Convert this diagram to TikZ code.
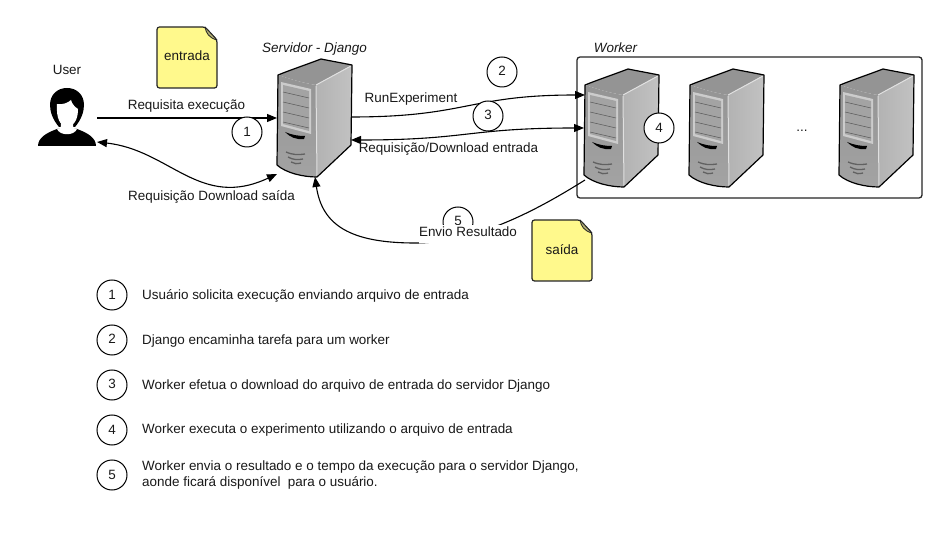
\documentclass[tikz,border=0pt]{standalone}
\usepackage{fontspec}
\setmainfont{Liberation Sans}
\usetikzlibrary{arrows.meta}
\tikzset{
  every node/.style={font=\fontsize{13.45}{16}\selectfont,text=black!90,inner sep=0pt},
  link/.style={line width=1.1pt,black},
  headA/.style={-{Triangle[length=10pt,width=8pt]}},
  headB/.style={{Triangle[length=10pt,width=8pt]}-{Triangle[length=10pt,width=8pt]}},
  numcirc/.style={circle,draw=black,line width=1pt,fill=white,minimum size=30pt},
  lab/.style={text height=13pt,text depth=3pt},
  leg/.style={lab,anchor=west},
  notebox/.style={draw=black!85,line width=1.2pt,fill=yellow!45,rounded corners=2.5pt},
  serverbox/.pic={
    \path[fill=black!42,line join=round]
      (0,0) .. controls (15,-6) and (30,-11) .. (43,-16) .. controls (53,-14) and (64,-12) .. (74,-10)
      -- (38,10) .. controls (25,8) and (12,4) .. (0,0) -- cycle;
    \path[left color=black!30,right color=black!24,line join=round]
      (38,10) -- (74,-10) -- (73,70) -- (39,102) -- cycle;
    \path[top color=black!42,bottom color=black!36,line join=round]
      (0,0) .. controls (12,4) and (25,8) .. (38,10) -- (39,102)
      .. controls (25,102) and (8,98) .. (-1,90) -- cycle;
    \draw[black!12,line width=1pt] (38,11) -- (39,101);
    \draw[black!12,line width=1pt] (38,10) -- (73,-9);
    \draw[black,line width=1.2pt,line join=round]
      (0,0) .. controls (15,-6) and (30,-11) .. (43,-16) .. controls (53,-14) and (64,-12) .. (74,-10)
      -- (73,70) -- (39,102) .. controls (25,102) and (8,98) .. (-1,90) -- cycle;
    \path[fill=black!20] (3,7) -- (33,14) -- (33,59) -- (3,51) -- cycle;
    \path[fill=black!36] (5,10) -- (31,16) -- (31,56) -- (5,49) -- cycle;
    \foreach \yy in {0,10,20,30}
      {\draw[black!65,line width=.5pt] (5,17+\yy) -- (31,23+\yy);}
    \path[fill=black] (7,57) .. controls (14,60) and (20,61) .. (27,61)
      -- (26,64) .. controls (18,65) and (12,62) .. (7,57) -- cycle;
    \draw[black!62,line width=1.3pt] (8,77) .. controls (15,80) and (20,80) .. (27,79);
    \draw[black!62,line width=1.3pt] (10,82) .. controls (15,85) and (20,85) .. (25,84);
    \draw[black!62,line width=1.3pt] (13,87) .. controls (16,89) and (19,89) .. (23,88);
    \coordinate (-wt) at (0,10);
    \coordinate (-wm) at (-1,43);
    \coordinate (-wl) at (0,95);
    \coordinate (-et) at (73,42);
    \coordinate (-eb) at (73,65);
    \coordinate (-bl) at (-1,99);
    \coordinate (-bc) at (37,102);
  }
}
\begin{document}
\begin{tikzpicture}[x=1pt,y=-1pt]
\useasboundingbox[fill=white] (0,0) rectangle (943,545);
% worker box
\node[draw=black!85,line width=1.3pt,rounded corners=3pt,minimum width=345pt,minimum height=141pt] (workerbox) at (749.5,127.5) {};
% servers
\pic (django) at (278,75) {serverbox};
\pic (workerA) at (585,85) {serverbox};
\pic (workerB) at (690,85) {serverbox};
\pic (workerC) at (840,85) {serverbox};
% user icon
\fill[black] (38,146) .. controls (38,138) and (46,133) .. (57,129) -- (77,129)
  .. controls (88,133) and (96,138) .. (96,146) -- cycle;
\fill[black] (59,127) .. controls (53,120) and (50,112) .. (50,105)
  .. controls (50,94) and (58,88) .. (67,88) .. controls (76,88) and (84,94) .. (84,105)
  .. controls (84,112) and (81,120) .. (75,127) -- cycle;
\fill[white] (57,104) .. controls (62,105) and (68,103) .. (71,100)
  .. controls (72,104) and (75,107) .. (78,109)
  .. controls (78,118) and (75,126) .. (67,127)
  .. controls (60,126) and (56,118) .. (57,104) -- cycle;
\fill[white] (57,129) .. controls (60,130) and (61,128) .. (61,124) -- (73,124)
  .. controls (73,128) and (74,130) .. (77,129) .. controls (74,136) and (60,136) .. (57,129) -- cycle;
\coordinate (usrout) at (97,118);
\coordinate (usrin) at (97,142);
% notes
\path[notebox] (157,27) -- (205,27) -- (217,40) -- (217,88) -- (157,88) -- cycle;
\path[fill=yellow!50!black!70,draw=black!85,line width=.8pt,line join=round] (205,27) .. controls (206,33) and (209,38) .. (217,40) -- cycle;
\path[notebox] (532,220) -- (580,220) -- (592,233) -- (592,281) -- (532,281) -- cycle;
\path[fill=yellow!50!black!70,draw=black!85,line width=.8pt,line join=round] (580,220) .. controls (581,226) and (584,231) .. (592,233) -- cycle;
% connectors
\draw[link,headA] (usrout) -- (django-wm);
\draw[link,headA] (django-et) .. controls (468,117) and (468,95) .. (workerA-wt);
\draw[link,headB] (django-eb) .. controls (468,140) and (468,128) .. (workerA-wm);
\draw[link,headB] (usrin) .. controls (170,150) and (200,210) .. (django-bl);
\draw[link,headA] (workerA-wl) .. controls (545,205) and (480,243) .. (415,243)
  .. controls (350,243) and (322,225) .. (django-bc);
% step circles
\node[numcirc] (c1) at (247,132) {1};
\node[numcirc] (c2) at (502,72) {\raisebox{1.5pt}{2}};
\node[numcirc] (c3) at (488,116) {\raisebox{1.5pt}{3}};
\node[numcirc] (c4) at (659,128) {4};
\node[numcirc] (c5) at (458,222) {\raisebox{3pt}{5}};
% labels
\node[lab] (luser) at (67,70) {User};
\node[lab] (lentrada) at (187,56) {entrada};
\node[lab] (lsaida) at (562,250) {saída};
\node[lab,font=\fontsize{13.45}{16}\selectfont\itshape] (ldjango) at (314.5,48) {Servidor - Django};
\node[lab,font=\fontsize{13.45}{16}\selectfont\itshape] (lworker) at (615.5,48) {Worker};
\node[lab] (ldots) at (802,127) {...};
\node[lab] (lreq) at (186.5,105) {Requisita execução};
\node[lab] (lrun) at (411,98) {RunExperiment};
\node[lab] (ldown) at (448.5,148) {Requisição/Download entrada};
\node[lab] (lsai) at (211.5,196) {Requisição Download saída};
\node[fill=white,text height=11.5pt,text depth=7pt] (lenv) at (468,234) {Envio Resultado};
% legend
\node[numcirc] (k1) at (112,295) {\raisebox{1pt}{1}};
\node[numcirc] (k2) at (112,340) {\raisebox{1.5pt}{2}};
\node[numcirc] (k3) at (112,385) {\raisebox{1.5pt}{3}};
\node[numcirc] (k4) at (112,430) {4};
\node[numcirc] (k5) at (112,475) {\raisebox{1pt}{5}};
\node[leg] (t1) at (142,295) {Usuário solicita execução enviando arquivo de entrada};
\node[leg] (t2) at (142,340) {Django encaminha tarefa para um worker};
\node[leg] (t3) at (142,385) {Worker efetua o download do arquivo de entrada do servidor Django};
\node[leg] (t4) at (142,428) {Worker executa o experimento utilizando o arquivo de entrada};
\node[leg] (t5a) at (142,465) {Worker envia o resultado e o tempo da execução para o servidor Django,};
\node[leg] (t5b) at (142,481) {aonde ficará disponível\ \ para o usuário.};
\end{tikzpicture}
\end{document}
